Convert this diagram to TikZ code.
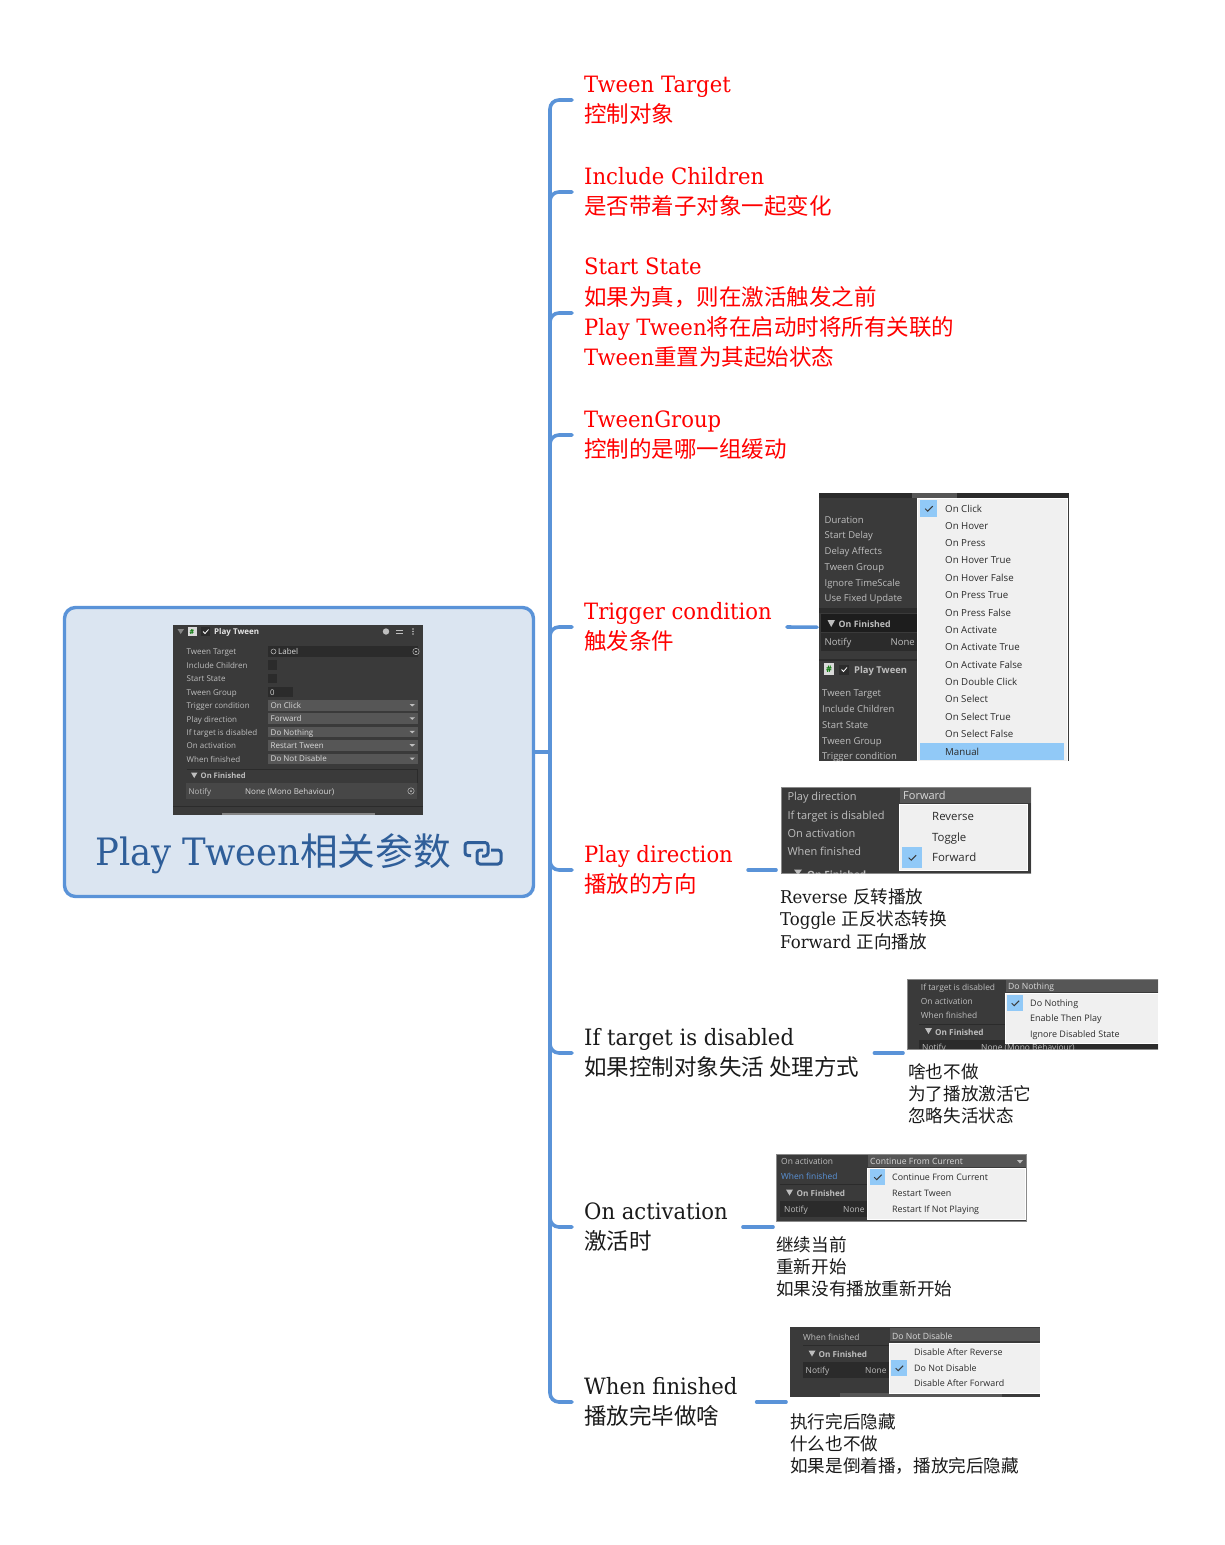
\documentclass[tikz,border=0pt]{standalone}
\usepackage{fontspec}
\setmainfont{DejaVu Serif}[FakeStretch=0.94]
\newfontfamily\cjk{Noto Sans CJK SC}
\newfontfamily\uifont{Open Sans}
\newcommand{\zh}[1]{{\cjk #1}}
\definecolor{branchblue}{HTML}{5A93D8}
\definecolor{rootfill}{HTML}{DBE5F1}
\definecolor{titleblue}{HTML}{2F5E99}
\definecolor{shotgray}{HTML}{3A3A3A}
\definecolor{shotdark}{HTML}{2B2B2B}
\definecolor{shotfield}{HTML}{565656}
\definecolor{shotedge}{HTML}{8A8A8A}
\definecolor{uitext}{HTML}{BEBEBE}
\definecolor{popfill}{HTML}{F0F0F0}
\definecolor{popsel}{HTML}{91C9F7}
\definecolor{deftext}{HTML}{1A1A1A}
\newcommand{\tickin}[1]{\draw[line width=1pt,draw=shotgray] ([shift={(-3.5,0)}]#1.center) -- ++(2.5,2.5) -- ++(5,-5);}
\tikzset{
  branch/.style={draw=branchblue,line width=3.6pt,line cap=round,rounded corners=9pt},
  substub/.style={branch,rounded corners=0pt,shorten >=2pt,shorten <=3pt},
  item/.style={anchor=west,inner xsep=12pt,inner ysep=0pt,align=left,text=deftext,font=\fontsize{22.5}{30.3}\selectfont},
  itemred/.style={item,text=red},
  note/.style={anchor=north west,inner sep=0pt,align=left,text=deftext,font=\fontsize{17.6}{22.4}\selectfont},
  shot/.style={anchor=north west,inner sep=0pt,fill=shotgray},
  uifield/.style={anchor=north west,inner sep=0pt,fill=shotfield},
  uipop/.style={anchor=north west,inner sep=0pt,fill=popfill,draw=white,line width=.5pt},
  uisel/.style={anchor=north west,inner sep=0pt,fill=popsel},
  uilab/.style={anchor=west,inner sep=0pt,yshift=-1.2pt,text=uitext,font=\uifont\fontsize{#1}{#1}\selectfont,execute at begin node=\vphantom{Ag}},
  uibold/.style={uilab=#1,font=\uifont\bfseries\fontsize{#1}{#1}\selectfont},
  poplab/.style={uilab=#1,text=shotdark}
}
\begin{document}
\begin{tikzpicture}[x=1pt,y=-1pt]
\useasboundingbox (0,0) rectangle (1225,1545);
% root
\node[anchor=north west,inner sep=0pt,outer sep=0pt,minimum width=469pt,minimum height=289pt,fill=rootfill,draw=branchblue,line width=3.4pt,rounded corners=11pt] (root) at (64.5,607.5) {};
\node[shot,minimum width=250pt,minimum height=190pt] (rootshot) at (173,625) {};
\node[anchor=west,inner sep=0pt,text=titleblue,font=\fontsize{37.7}{40}\selectfont] (title) at (95,854) {Play Tween\zh{相关参数}};
\draw[titleblue,line width=3pt,rounded corners=3pt] (471,855.5) -- (465,855.5) -- (465,842.5) -- (488,842.5) -- (488,856) -- (482,856);
\draw[titleblue,line width=3pt,rounded corners=3pt] (491,850) -- (501,850) -- (501,864) -- (477,864) -- (477,850) -- (483,850);
\node[shot,fill=shotdark,minimum width=150pt,minimum height=11pt] (rootfield0) at (268,645.5) {};
\foreach \ty/\tw [count=\i] in {660/9,673.5/9,687/25}{\node[shot,fill=shotdark,minimum width=\tw pt,minimum height=9.5pt] (rootbox\i) at (268,\ty) {};}
\foreach \ty/\tx [count=\i] in {651.7/Tween Target,665/Include Children,678.7/Start State,692/Tween Group,705.3/Trigger condition,719/Play direction,732.3/If target is disabled,745.7/On activation,759/When finished}{\node[uilab=8] (rootlab\i) at (186.5,\ty) {\tx};}
\node[uilab=7.8,text=white!85!black] (rootzero) at (270,692) {0};
\foreach \ty/\tx [count=\i] in {705/On Click,718.3/Forward,731.8/Do Nothing,745.2/Restart Tween,758.5/Do Not Disable}{
  \node[uifield,minimum width=150pt,minimum height=10.5pt] (rootdrop\i) at (268,\ty-5.2) {};
  \node[uilab=8,text=white!85!black] (rootval\i) at (270.5,\ty) {\tx};
  \fill[uitext] (409.5,\ty-1) -- (415,\ty-1) -- (412.2,\ty+1.5) -- cycle;}
\node[uibold=8,text=white!90!black] (roothead) at (214,631.5) {Play Tween};
\fill[white!85!black] (187.5,627) rectangle (196.5,636);
\node[uibold=7,text=green!45!black] (roothash) at (189.5,631.5) {\#};
\node[shot,fill=shotdark,minimum width=9pt,minimum height=9pt] (rootcheck) at (201,627) {};
\draw[white,line width=.8pt] (203,631.5) -- (205,633.5) -- (208.5,629.5);
\fill[uitext!70!black] (177.5,629) -- (184,629) -- (180.7,634) -- cycle;
\fill[uitext] (386,631.5) circle (3.2pt);
\draw[uitext,line width=.8pt] (396,630) -- (403,630) (396,633) -- (403,633);
\foreach \ty in {629,631.5,634}{\fill[uitext] (413,\ty) circle (.8pt);}
\draw[shotdark,line width=.6pt] (186.5,769) -- (417,769) -- (417,783);
\fill[uitext] (191,772.5) -- (197.5,772.5) -- (194.2,778) -- cycle;
\node[uibold=7.6] (rootfin) at (200.5,775.5) {On Finished};
\node[shot,fill=black!72,minimum width=231pt,minimum height=16pt] (rootnotify) at (186,783) {};
\node[uilab=8] (rootnot) at (188.5,791) {Notify};
\node[uilab=8,text=white!85!black] (rootnone) at (245,791) {None (Mono Behaviour)};
\draw[uitext,line width=.5pt] (411,791) circle (3.2pt);
\fill[uitext] (411,791) circle (1pt) (416,651.5) circle (1pt);
\draw[uitext,line width=.5pt] (416,651.5) circle (3.2pt);
\node[uilab=8,text=white!85!black] (rootlabel) at (278,651.5) {Label};
\draw[uitext,line width=.5pt] (273.5,651.5) circle (2.5pt);
\draw[shotdark,line width=.8pt] (173,806.5) -- (423,806.5);
\fill[uitext!70!black] (222,813) rectangle (375,815);
% branches
\coordinate (hub) at ([xshift=16.5pt]root.east);
\draw[branch,rounded corners=0pt,line cap=butt] (root.east) -- (hub);
\node[itemred] (target) at (572,100) {Tween Target\\\zh{控制对象}};
\node[itemred] (children) at (572,192) {Include Children\\\zh{是否带着子对象一起变化}};
\node[itemred] (state) at (572,313) {Start State\\\zh{如果为真，则在激活触发之前}\\Play Tween\zh{将在启动时将所有关联的}\\Tween\zh{重置为其起始状态}};
\node[itemred] (group) at (572,435) {TweenGroup\\\zh{控制的是哪一组缓动}};
\node[itemred] (trigger) at (572,627) {Trigger condition\\\zh{触发条件}};
\node[itemred] (direction) at (572,870) {Play direction\\\zh{播放的方向}};
\node[item] (disabled) at (572,1053) {If target is disabled\\\zh{如果控制对象失活 处理方式}};
\node[item] (activation) at (572,1227) {On activation\\\zh{激活时}};
\node[item] (finished) at (572,1402) {When finished\\\zh{播放完毕做啥}};
\foreach \nm in {target,children,state,group,trigger,direction,disabled,activation,finished}{\draw[branch] (hub) |- (\nm.west);}
\coordinate (directionend) at (778,870);
\coordinate (disabledend) at (905,1053);
\coordinate (activationend) at (775,1227);
\coordinate (finishedend) at (788,1402);
% trigger shot
\node[shot,minimum width=250pt,minimum height=268pt] (triggershot) at (819,493) {};
\draw[substub] (trigger.east) -- (triggershot.west);
\fill[shotdark] (819,493) rectangle (1069,498);
\fill[shotfield] (912,493) rectangle (957,498);
\fill[shotdark] (819,608) rectangle (917,613);
\fill[shotgray!115!white] (821,614) rectangle (917,632);
\fill[shotdark] (821,633) rectangle (917,651);
\fill[shotdark] (819,659) rectangle (917,661);
\foreach \ty/\tx [count=\i] in {519.6/Duration,535.2/Start Delay,551/Delay Affects,566.7/Tween Group,582.7/Ignore TimeScale,598.2/Use Fixed Update}{\node[uilab=9.5] (triglab\i) at (824.5,\ty) {\tx};}
\foreach \ty/\tx [count=\i] in {693/Tween Target,708.7/Include Children,724.7/Start State,740.7/Tween Group,756.3/Trigger condition}{\node[uilab=9.5] (trigsub\i) at (822,\ty) {\tx};}
\fill[uitext] (827.5,620) -- (835,620) -- (831.2,627) -- cycle;
\node[uibold=8.8] (trigfin) at (838.5,624) {On Finished};
\node[uilab=9.5] (trignot) at (824.5,641.7) {Notify};
\node[uilab=9.5] (trignone) at (890.5,641.7) {None};
\fill[white!85!black] (824,663) rectangle (834,675);
\node[uibold=9,text=green!45!black] (trighash) at (826,669.5) {\#};
\node[shot,fill=shotdark,minimum width=10pt,minimum height=10pt] (trigcheck) at (839,664.5) {};
\draw[white,line width=.8pt] (841.5,669.5) -- (843.5,671.5) -- (847,667.5);
\node[uibold=9.4] (trighead) at (854,669.7) {Play Tween};
\node[uipop,minimum width=150pt,minimum height=263pt] (trigpop) at (917,498) {};
\node[uisel,minimum width=17pt,minimum height=17pt] (trigsel) at (920,500) {};
\tickin{trigsel}
\node[uisel,minimum width=144pt,minimum height=17pt] (trigman) at (920,743) {};
\foreach \tx [count=\i from 0] in {On Click,On Hover,On Press,On Hover True,On Hover False,On Press True,On Press False,On Activate,On Activate True,On Activate False,On Double Click,On Select,On Select True,On Select False,Manual}{\node[poplab=9.7] (trigitem\i) at (945,508.3+\i*17.36) {\tx};}
% direction shot
\begin{scope}
\clip (781,787) rectangle (1031,873);
\node[shot,draw=shotedge,line width=.6pt,minimum width=250pt,minimum height=86pt] (directionshot) at (781,787) {};
\foreach \ty/\tx [count=\i] in {796.3/Play direction,815/If target is disabled,833.3/On activation,851.7/When finished}{\node[uilab=11] (dirlab\i) at (787.3,\ty) {\tx};}
\fill[uitext] (794,869.5) -- (802,869.5) -- (798,875) -- cycle;
\node[uibold=10] (dirfin) at (807,875) {On Finished};
\end{scope}
\draw[substub] (direction.east) -- (directionend);
\node[uifield,minimum width=131pt,minimum height=15pt] (dirfield) at (900,788) {};
\node[uilab=11,text=white!85!black] (dirval) at (903,795.5) {Forward};
\node[uipop,minimum width=128pt,minimum height=66pt] (dirpop) at (899,804) {};
\node[uisel,minimum width=20pt,minimum height=21pt] (dirsel) at (902,847) {};
\tickin{dirsel}
\foreach \ty/\tx [count=\i] in {816.7/Reverse,837/Toggle,857.3/Forward}{\node[poplab=11.4] (diritem\i) at (932,\ty) {\tx};}
\node[note] (directionnote) at (780,888.5) {Reverse \zh{反转播放}\\Toggle \zh{正反状态转换}\\Forward \zh{正向播放}};
% disabled shot
\begin{scope}
\clip (907,979) rectangle (1158,1049);
\node[shot,draw=shotedge,line width=.6pt,minimum width=251pt,minimum height=70pt] (disabledshot) at (907,979) {};
\foreach \ty/\tx [count=\i] in {987/If target is disabled,1001/On activation,1015/When finished}{\node[uilab=8.4] (dislab\i) at (920.7,\ty) {\tx};}
\fill[shotdark] (919,1024) rectangle (1005,1025);
\fill[uitext] (925,1028) -- (932,1028) -- (928.5,1034) -- cycle;
\node[uibold=8.2] (disfin) at (935,1032) {On Finished};
\fill[shotdark] (919,1040) rectangle (1158,1049);
\node[uilab=8.4] (disnot) at (922,1047.5) {Notify};
\node[uilab=8.4] (disnone) at (981,1047.5) {None (Mono Behaviour)};
\end{scope}
\draw[substub] (disabled.east) -- (disabledend);
\node[uifield,minimum width=152pt,minimum height=12pt] (disfield) at (1006,980) {};
\node[uilab=8.6,text=white!85!black] (disval) at (1008,986.5) {Do Nothing};
\node[uipop,minimum width=153pt,minimum height=50pt] (dispop) at (1005,993) {};
\node[uisel,minimum width=16pt,minimum height=16pt] (dissel) at (1007,995) {};
\tickin{dissel}
\foreach \ty/\tx [count=\i] in {1002.5/Do Nothing,1018/Enable Then Play,1033.5/Ignore Disabled State}{\node[poplab=9] (disitem\i) at (1030,\ty) {\tx};}
\node[note] (disablednote) at (908,1063) {\zh{啥也不做}\\\zh{为了播放激活它}\\\zh{忽略失活状态}};
% activation shot
\node[shot,draw=shotedge,line width=.6pt,minimum width=250pt,minimum height=67pt] (activationshot) at (776,1154) {};
\draw[substub] (activation.east) -- (activationend);
\node[uilab=8.4] (actlab1) at (781,1161.7) {On activation};
\node[uilab=8.4,text=branchblue] (actlab2) at (781,1176) {When finished};
\fill[shotdark] (780,1184) rectangle (867,1185);
\fill[shotdark] (780,1201) rectangle (867,1217);
\fill[uitext] (786,1189.5) -- (793,1189.5) -- (789.5,1195.5) -- cycle;
\node[uibold=8.2] (actfin) at (796.5,1193) {On Finished};
\node[uilab=8.4] (actnot) at (784,1209) {Notify};
\node[uilab=8.4] (actnone) at (843,1209) {None};
\node[uifield,minimum width=158pt,minimum height=12pt] (actfield) at (868,1155) {};
\node[uilab=8.6,text=white!85!black] (actval) at (870,1161.5) {Continue From Current};
\fill[uitext] (1017,1160) -- (1023,1160) -- (1020,1163.5) -- cycle;
\node[uipop,minimum width=158pt,minimum height=51pt] (actpop) at (867,1168) {};
\node[uisel,minimum width=15pt,minimum height=16pt] (actsel) at (870,1169) {};
\tickin{actsel}
\foreach \ty/\tx [count=\i] in {1177/Continue From Current,1193/Restart Tween,1208.6/Restart If Not Playing}{\node[poplab=8.9] (actitem\i) at (892,\ty) {\tx};}
\node[note] (activationnote) at (776,1236) {\zh{继续当前}\\\zh{重新开始}\\\zh{如果没有播放重新开始}};
% finished shot
\node[shot,minimum width=250pt,minimum height=70pt] (finishedshot) at (790,1327) {};
\draw[substub,shorten <=7pt] (finished.east) -- (finishedend);
\node[uilab=8.4] (finlab1) at (803,1336.7) {When finished};
\fill[shotdark] (803,1345) rectangle (889,1346);
\fill[shotdark] (803,1362) rectangle (889,1378);
\fill[uitext] (808.5,1350.5) -- (815.5,1350.5) -- (812,1356.5) -- cycle;
\node[uibold=8.2] (finfin) at (818.5,1354) {On Finished};
\node[uilab=8.4] (finnot) at (805.5,1370) {Notify};
\node[uilab=8.4] (finnone) at (865,1370) {None};
\fill[shotfield] (840,1393) rectangle (1002,1397);
\node[uifield,minimum width=150pt,minimum height=13pt] (finfield) at (890,1328) {};
\node[uilab=8.6,text=white!85!black] (finval) at (892,1336) {Do Not Disable};
\node[uipop,minimum width=151pt,minimum height=50pt] (finpop) at (889,1343) {};
\node[uisel,minimum width=16pt,minimum height=16pt] (finsel) at (891,1360) {};
\tickin{finsel}
\foreach \ty/\tx [count=\i] in {1352/Disable After Reverse,1367.7/Do Not Disable,1383/Disable After Forward}{\node[poplab=8.9] (finitem\i) at (914,\ty) {\tx};}
\node[note] (finishednote) at (790,1413) {\zh{执行完后隐藏}\\\zh{什么也不做}\\\zh{如果是倒着播，播放完后隐藏}};
\end{tikzpicture}
\end{document}
